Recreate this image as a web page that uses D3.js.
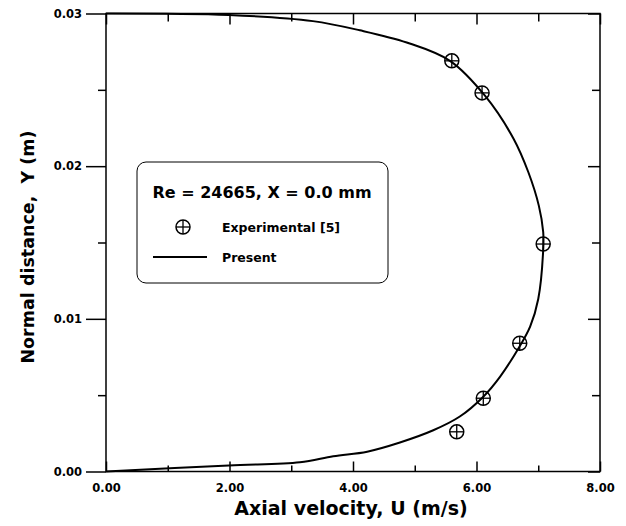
<!DOCTYPE html>
<html>
<head>
<meta charset="utf-8">
<script src="https://cdn.jsdelivr.net/npm/d3@7"></script>
<style>
  body { margin: 0; background: #fff; }
  svg text { font-family: "DejaVu Sans", Verdana, sans-serif; font-weight: bold; fill: #000; }
</style>
</head>
<body>
<div id="chart"></div>
<script>
// Present (computed) profile
var lineU = [0, 1.99, 3.35, 4.11, 4.87, 5.57, 6.14, 6.60, 6.84, 7.01, 7.08, 7.08, 7.00, 6.87, 6.70, 6.38, 6.11, 5.73, 5.30, 4.76, 4.23, 3.68, 3.14, 1.99, 0];
var lineY = [0.0300, 0.0299, 0.0295, 0.0289, 0.0281, 0.0269, 0.0246, 0.0218, 0.0196, 0.0174, 0.0157, 0.0145, 0.0113, 0.0095, 0.0082, 0.0062, 0.0049, 0.0036, 0.0027, 0.0019, 0.0013, 0.0010, 0.0006, 0.0004, 0];

// Experimental [5]
var expU = [5.60, 6.09, 7.08, 6.70, 6.11, 5.68];
var expY = [0.0269, 0.0248, 0.0149, 0.0084, 0.0048, 0.0026];

var xMajor = [0, 2, 4, 6, 8];
var xMinor = [1, 3, 5, 7];
var yMajor = [0, 0.01, 0.02, 0.03];
var yMinor = [0.005, 0.015, 0.025];

var legendTitle = 'Re = 24665, X = 0.0 mm';
var legendExp = 'Experimental [5]';
var legendPresent = 'Present';

(function () {
  var W = 626, H = 526;
  var left = 106, right = 600, top = 13.5, bottom = 471.5;

  var svg = d3.select('#chart').append('svg').attr('width', W).attr('height', H);

  var x = d3.scaleLinear().domain([0, 8]).range([left, right]);
  var y = d3.scaleLinear().domain([0, 0.03]).range([bottom, top]);

  // frame
  svg.append('rect')
    .attr('x', left).attr('y', top)
    .attr('width', right - left).attr('height', bottom - top)
    .attr('fill', 'none').attr('stroke', '#000').attr('stroke-width', 1.5);

  function strip(g) {
    g.select('.domain').remove();
    g.selectAll('.tick line').attr('stroke', '#000').attr('stroke-width', 1.5);
  }

  // bottom axis: inward ticks, labels below
  svg.append('g').attr('transform', 'translate(0,' + bottom + ')')
    .call(d3.axisBottom(x).tickValues(xMajor).tickSize(-10).tickPadding(12).tickFormat(d3.format('.2f')))
    .call(strip)
    .selectAll('text').attr('font-size', 11.5).attr('font-family', null);
  svg.append('g').attr('transform', 'translate(0,' + bottom + ')')
    .call(d3.axisBottom(x).tickValues(xMinor).tickSize(-6).tickFormat(''))
    .call(strip);

  // top axis: inward ticks, no labels
  svg.append('g').attr('transform', 'translate(0,' + top + ')')
    .call(d3.axisTop(x).tickValues(xMajor).tickSize(-11).tickFormat(''))
    .call(strip);
  svg.append('g').attr('transform', 'translate(0,' + top + ')')
    .call(d3.axisTop(x).tickValues(xMinor).tickSize(-8).tickFormat(''))
    .call(strip);

  // left axis: outward ticks with labels
  svg.append('g').attr('transform', 'translate(' + left + ',0)')
    .call(d3.axisLeft(y).tickValues(yMajor).tickSize(20).tickPadding(4).tickFormat(d3.format('.2f')))
    .call(strip)
    .selectAll('text').attr('font-size', 11.5).attr('font-family', null);
  svg.append('g').attr('transform', 'translate(' + left + ',0)')
    .call(d3.axisLeft(y).tickValues(yMinor).tickSize(8).tickFormat(''))
    .call(strip);

  // right axis: inward ticks
  svg.append('g').attr('transform', 'translate(' + right + ',0)')
    .call(d3.axisRight(y).tickValues(yMajor).tickSize(-12).tickFormat(''))
    .call(strip);
  svg.append('g').attr('transform', 'translate(' + right + ',0)')
    .call(d3.axisRight(y).tickValues(yMinor).tickSize(-8).tickFormat(''))
    .call(strip);

  // axis titles
  svg.append('text')
    .attr('x', (left + right) / 2 - 2).attr('y', 515)
    .attr('text-anchor', 'middle').attr('font-size', 19)
    .text('Axial velocity, U (m/s)');
  svg.append('text')
    .attr('transform', 'translate(34,247) rotate(-90)')
    .attr('text-anchor', 'middle').attr('font-size', 17.5)
    .attr('xml:space', 'preserve')
    .text('Normal distance,  Y (m)');

  // present curve
  var line = d3.line()
    .x(function (d, i) { return x(lineU[i]); })
    .y(function (d, i) { return y(lineY[i]); })
    .curve(d3.curveCatmullRom);
  svg.append('path')
    .datum(lineU)
    .attr('d', line)
    .attr('fill', 'none').attr('stroke', '#000').attr('stroke-width', 2);

  // experimental markers: circle with cross
  function marker(g, r) {
    g.append('circle').attr('r', r).attr('fill', 'none').attr('stroke', '#000').attr('stroke-width', 1.5);
    g.append('line').attr('x1', -r).attr('x2', r).attr('stroke', '#000').attr('stroke-width', 1.3);
    g.append('line').attr('y1', -r).attr('y2', r).attr('stroke', '#000').attr('stroke-width', 1.3);
  }
  svg.selectAll('g.exp').data(expU).enter().append('g').attr('class', 'exp')
    .attr('transform', function (d, i) { return 'translate(' + x(d) + ',' + y(expY[i]) + ')'; })
    .each(function () { marker(d3.select(this), 7); });

  // legend
  var lg = svg.append('g');
  lg.append('rect')
    .attr('x', 137).attr('y', 162).attr('width', 251).attr('height', 121)
    .attr('rx', 9).attr('ry', 9)
    .attr('fill', '#fff').attr('stroke', '#000').attr('stroke-width', 1);
  lg.append('text').attr('x', 262).attr('y', 198).attr('text-anchor', 'middle')
    .attr('font-size', 16).text(legendTitle);
  marker(lg.append('g').attr('transform', 'translate(183,227)'), 7);
  lg.append('text').attr('x', 222).attr('y', 232).attr('font-size', 12.5).text(legendExp);
  lg.append('line').attr('x1', 153).attr('x2', 207).attr('y1', 257).attr('y2', 257)
    .attr('stroke', '#000').attr('stroke-width', 2);
  lg.append('text').attr('x', 222).attr('y', 262).attr('font-size', 12.5).text(legendPresent);
})();
</script>
</body>
</html>
